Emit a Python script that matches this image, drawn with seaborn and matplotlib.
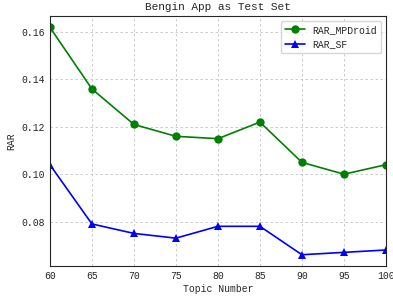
import pandas as pd
import seaborn as sns
import matplotlib.pyplot as plt

# --- Daten ---
topics = [60, 65, 70, 75, 80, 85, 90, 95, 100]
rar_mpdroid = [0.162, 0.136, 0.121, 0.116, 0.115, 0.122, 0.105, 0.100, 0.104]
rar_sf = [0.104, 0.079, 0.075, 0.073, 0.078, 0.078, 0.066, 0.067, 0.068]

sns.set_style("ticks")
plt.rcParams['font.family'] = ['Liberation Mono', 'DejaVu Sans']
plt.rcParams['font.size'] = 7

df = pd.DataFrame({
    'Topic': topics * 2,
    'RAR': rar_mpdroid + rar_sf,
    'Serie': ['RAR_MPDroid'] * len(topics) + ['RAR_SF'] * len(topics),
})

fig = plt.figure(figsize=(3.93, 2.96), dpi=100)
ax = fig.add_axes([0.127, 0.101, 0.855, 0.845])

sns.lineplot(data=df, x='Topic', y='RAR', hue='Serie', style='Serie',
             palette={'RAR_MPDroid': 'green', 'RAR_SF': 'blue'},
             markers={'RAR_MPDroid': 'o', 'RAR_SF': '^'}, dashes=False,
             markersize=6, markeredgewidth=0, linewidth=1.2, ax=ax)

ax.set_xlim(60, 100)
ax.set_xticks(topics)
ax.grid(True, linestyle=(0, (3, 3)), color='#c4c4c4', linewidth=0.6)
ax.tick_params(labelsize=7, length=0)
for s in ax.spines.values():
    s.set_linewidth(0.8)

ax.set_title("Bengin App as Test Set", fontsize=8, pad=4)
ax.set_xlabel("Topic Number", fontsize=7, labelpad=2)
ax.set_ylabel("RAR", fontsize=7, labelpad=4)
ax.legend(loc='upper right', fontsize=7, title=None, frameon=True,
          edgecolor='#cccccc', fancybox=True)

fig.savefig("out.png", dpi=100)
